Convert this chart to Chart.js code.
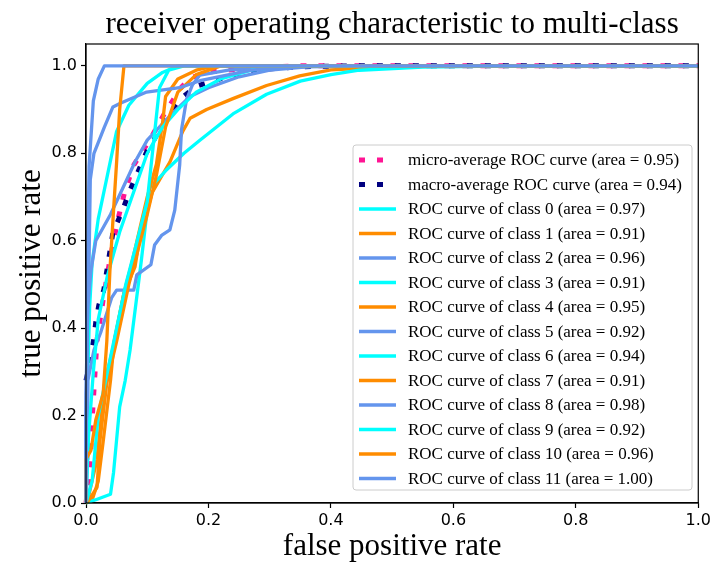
<!DOCTYPE html>
<html>
<head>
<meta charset="utf-8">
<script src="https://cdn.jsdelivr.net/npm/chart.js@4.4.0/dist/chart.umd.min.js"></script>
<style>
  body { margin: 0; background: #fff; }
  #wrap { width: 714px; height: 564px; }
</style>
</head>
<body>
<div id="wrap"><canvas id="rocChart" width="714" height="564"></canvas></div>
<script>
// values (fpr / tpr pairs)
const microFpr = [0, 0.005, 0.008, 0.01, 0.013, 0.018, 0.028, 0.039, 0.052, 0.064, 0.078, 0.106, 0.127, 0.155, 0.171, 0.202, 0.267, 0.349, 1];
const microTpr = [0, 0.053, 0.121, 0.19, 0.259, 0.373, 0.465, 0.556, 0.648, 0.716, 0.773, 0.835, 0.888, 0.95, 0.973, 0.986, 0.995, 1, 1];
const macroFpr = [0, 0.007, 0.013, 0.016, 0.021, 0.029, 0.044, 0.06, 0.072, 0.098, 0.127, 0.16, 0.181, 0.235, 0.283, 0.349, 0.43, 1];
const macroTpr = [0.28, 0.328, 0.378, 0.414, 0.453, 0.487, 0.619, 0.671, 0.716, 0.8, 0.869, 0.931, 0.954, 0.977, 0.991, 0.998, 1, 1];

const class0Fpr = [0, 0, 0.003, 0.006, 0.01, 0.02, 0.035, 0.05, 0.07, 0.1, 0.125, 0.15, 1];
const class0Tpr = [0, 0.05, 0.3, 0.45, 0.55, 0.65, 0.75, 0.85, 0.91, 0.96, 0.985, 1, 1];
const class1Fpr = [0, 0.01, 0.02, 0.028, 0.04, 0.046, 0.062, 0.08, 0.087, 0.108, 0.137, 0.158, 0.17, 0.197, 0.24, 0.295, 0.349, 0.4, 0.5, 0.6, 1];
const class1Tpr = [0, 0.007, 0.05, 0.14, 0.28, 0.37, 0.48, 0.54, 0.6, 0.71, 0.78, 0.85, 0.88, 0.9, 0.925, 0.955, 0.977, 0.991, 0.998, 1, 1];
const class2Fpr = [0, 0, 0.003, 0.008, 0.016, 0.04, 0.06, 0.08, 0.1, 0.14, 0.17, 0.2, 0.25, 0.3, 0.38, 1];
const class2Tpr = [0, 0.25, 0.45, 0.53, 0.6, 0.66, 0.72, 0.78, 0.83, 0.89, 0.93, 0.95, 0.975, 0.99, 1, 1];
const class3Fpr = [0, 0.015, 0.04, 0.045, 0.055, 0.064, 0.072, 0.09, 0.104, 0.13, 0.16, 0.186, 0.24, 0.295, 0.35, 0.4, 0.446, 0.55, 0.7, 1];
const class3Tpr = [0, 0.007, 0.02, 0.07, 0.22, 0.28, 0.35, 0.55, 0.72, 0.76, 0.8, 0.83, 0.89, 0.935, 0.965, 0.98, 0.99, 0.997, 1, 1];
const class4Fpr = [0, 0.005, 0.018, 0.03, 0.045, 0.062, 0.075, 0.09, 0.1, 0.115, 0.125, 0.13, 0.15, 0.18, 0.21, 1];
const class4Tpr = [0, 0.02, 0.1, 0.27, 0.36, 0.48, 0.55, 0.64, 0.7, 0.775, 0.87, 0.93, 0.97, 0.99, 1, 1];
const class5Fpr = [0, 0.002, 0.003, 0.013, 0.024, 0.042, 0.05, 0.078, 0.083, 0.106, 0.112, 0.124, 0.137, 0.145, 0.153, 0.156, 0.164, 0.174, 0.186, 0.235, 0.349, 0.511, 1];
const class5Tpr = [0, 0.1, 0.28, 0.35, 0.39, 0.47, 0.487, 0.487, 0.522, 0.545, 0.59, 0.613, 0.625, 0.67, 0.773, 0.854, 0.922, 0.957, 0.979, 0.991, 0.998, 1, 1];
const class6Fpr = [0, 0.004, 0.012, 0.02, 0.035, 0.055, 0.08, 0.1, 0.125, 0.15, 0.18, 0.22, 0.27, 0.33, 1];
const class6Tpr = [0, 0.15, 0.3, 0.42, 0.52, 0.62, 0.72, 0.8, 0.86, 0.9, 0.94, 0.97, 0.99, 1, 1];
const class7Fpr = [0, 0.003, 0.018, 0.023, 0.034, 0.05, 0.07, 0.085, 0.1, 0.115, 0.13, 0.15, 0.18, 0.22, 1];
const class7Tpr = [0, 0.003, 0.036, 0.145, 0.275, 0.37, 0.5, 0.58, 0.66, 0.75, 0.86, 0.94, 0.98, 1, 1];
const class8Fpr = [0, 0, 0.002, 0.005, 0.007, 0.013, 0.03, 0.044, 0.057, 0.099, 0.153, 0.186, 0.27, 0.35, 1];
const class8Tpr = [0, 0.2, 0.4, 0.55, 0.74, 0.8, 0.86, 0.906, 0.915, 0.94, 0.95, 0.966, 0.99, 1, 1];
const class9Fpr = [0, 0.01, 0.02, 0.035, 0.05, 0.065, 0.08, 0.1, 0.11, 0.12, 0.135, 0.16, 1];
const class9Tpr = [0, 0.05, 0.2, 0.3, 0.4, 0.5, 0.58, 0.69, 0.82, 0.95, 0.99, 1, 1];
const class10Fpr = [0, 0, 0.008, 0.016, 0.028, 0.034, 0.039, 0.045, 0.05, 0.055, 0.062, 1];
const class10Tpr = [0, 0.1, 0.12, 0.19, 0.25, 0.37, 0.53, 0.67, 0.78, 0.9, 1, 1];
const class11Fpr = [0, 0.002, 0.005, 0.012, 0.02, 0.03, 1];
const class11Tpr = [0, 0.5, 0.77, 0.92, 0.97, 1, 1];

const classAreas = ["0.97", "0.91", "0.96", "0.91", "0.95", "0.92", "0.94", "0.91", "0.98", "0.92", "0.96", "1.00"];
const classFpr = [class0Fpr, class1Fpr, class2Fpr, class3Fpr, class4Fpr, class5Fpr, class6Fpr, class7Fpr, class8Fpr, class9Fpr, class10Fpr, class11Fpr];
const classTpr = [class0Tpr, class1Tpr, class2Tpr, class3Tpr, class4Tpr, class5Tpr, class6Tpr, class7Tpr, class8Tpr, class9Tpr, class10Tpr, class11Tpr];
const classColors = ["#00ffff", "#ff8c00", "#6495ed"];

const xTicks = [0, 0.2, 0.4, 0.6, 0.8, 1.0];
const yTicks = [0, 0.2, 0.4, 0.6, 0.8, 1.0];

function toPoints(fpr, tpr) {
    return fpr.map((x, i) => ({x: x, y: tpr[i]}));
}

const datasets = [];
datasets.push({
    label: "micro-average ROC curve (area = 0.95)",
    data: toPoints(microFpr, microTpr),
    borderColor: "#ff1493",
    borderWidth: 5,
    borderDash: [6, 12],
    dotted: true
});
datasets.push({
    label: "macro-average ROC curve (area = 0.94)",
    data: toPoints(macroFpr, macroTpr),
    borderColor: "#000080",
    borderWidth: 5,
    borderDash: [6, 12],
    dotted: true
});
for (let i = 0; i < classFpr.length; i++) {
    datasets.push({
        label: "ROC curve of class " + i + " (area = " + classAreas[i] + ")",
        data: toPoints(classFpr[i], classTpr[i]),
        borderColor: classColors[i % 3],
        borderWidth: 3.3
    });
}
// later curves on top, like matplotlib
datasets.forEach((d, i) => {
    d.order = datasets.length - i;
    d.pointRadius = 0;
    d.tension = 0;
    d.fill = false;
    d.borderCapStyle = "butt";
    d.borderJoinStyle = "round";
});

const extrasPlugin = {
    id: "extras",
    afterDraw(chart) {
        const ctx = chart.ctx;
        const a = chart.chartArea;
        ctx.save();
        // frame
        ctx.strokeStyle = "#000";
        ctx.lineWidth = 1.2;
        ctx.strokeRect(a.left, a.top, a.right - a.left, a.bottom - a.top);
        // title
        ctx.fillStyle = "#000";
        ctx.font = "31px 'Liberation Serif'";
        ctx.textAlign = "center";
        ctx.textBaseline = "middle";
        ctx.fillText("receiver operating characteristic to multi-class", (a.left + a.right) / 2, 25);
        // legend
        const lx = 353, ly = 145, lw = 339, lh = 345;
        ctx.beginPath();
        ctx.roundRect(lx, ly, lw, lh, 3);
        ctx.fillStyle = "rgba(255,255,255,0.8)";
        ctx.fill();
        ctx.strokeStyle = "#cccccc";
        ctx.lineWidth = 1;
        ctx.stroke();
        ctx.font = "17px 'Liberation Serif'";
        ctx.textAlign = "left";
        chart.data.datasets.forEach((d, i) => {
            const y = 160 + i * 24.5;
            ctx.strokeStyle = d.borderColor;
            ctx.lineWidth = d.dotted ? 5 : 3.3;
            ctx.setLineDash(d.dotted ? [6, 12] : []);
            ctx.beginPath();
            ctx.moveTo(359, y);
            ctx.lineTo(d.dotted ? 386 : 396, y);
            ctx.stroke();
            ctx.setLineDash([]);
            ctx.fillStyle = "#000";
            ctx.fillText(d.label, 408, y + 1);
        });
        ctx.restore();
    }
};

new Chart(document.getElementById("rocChart"), {
    type: "line",
    data: { datasets: datasets },
    options: {
        responsive: false,
        animation: false,
        clip: false,
        layout: { padding: { top: 44, right: 14, left: 0, bottom: 0 } },
        plugins: {
            legend: { display: false },
            tooltip: { enabled: false }
        },
        scales: {
            x: {
                type: "linear",
                min: 0,
                max: 1,
                afterBuildTicks: s => { s.ticks = xTicks.map(v => ({value: v})); },
                afterFit: s => { s.height = 61; },
                ticks: {
                    color: "#000",
                    font: { family: "'DejaVu Sans'", size: 16 },
                    padding: 3,
                    maxRotation: 0,
                    callback: v => v.toFixed(1)
                },
                grid: { display: true, drawOnChartArea: false, drawTicks: true, tickLength: 5, color: "#000", tickWidth: 1.2 },
                border: { display: true, color: "#000", width: 1.2 },
                title: {
                    display: true,
                    text: "false positive rate",
                    color: "#000",
                    font: { family: "'Liberation Serif'", size: 31, lineHeight: 1.1 },
                    padding: { top: 0, bottom: 0 }
                }
            },
            y: {
                type: "linear",
                min: 0,
                max: 1.05,
                afterBuildTicks: s => { s.ticks = yTicks.map(v => ({value: v})); },
                afterFit: s => { s.width = 86; },
                ticks: {
                    color: "#000",
                    font: { family: "'DejaVu Sans'", size: 16 },
                    padding: 4,
                    callback: v => v.toFixed(1)
                },
                grid: { display: true, drawOnChartArea: false, drawTicks: true, tickLength: 5, color: "#000", tickWidth: 1.2 },
                border: { display: true, color: "#000", width: 1.2 },
                title: {
                    display: true,
                    text: "true positive rate",
                    color: "#000",
                    font: { family: "'Liberation Serif'", size: 31, lineHeight: 1.1 },
                    padding: { top: 15, bottom: 0 }
                }
            }
        }
    },
    plugins: [extrasPlugin]
});
</script>
</body>
</html>
